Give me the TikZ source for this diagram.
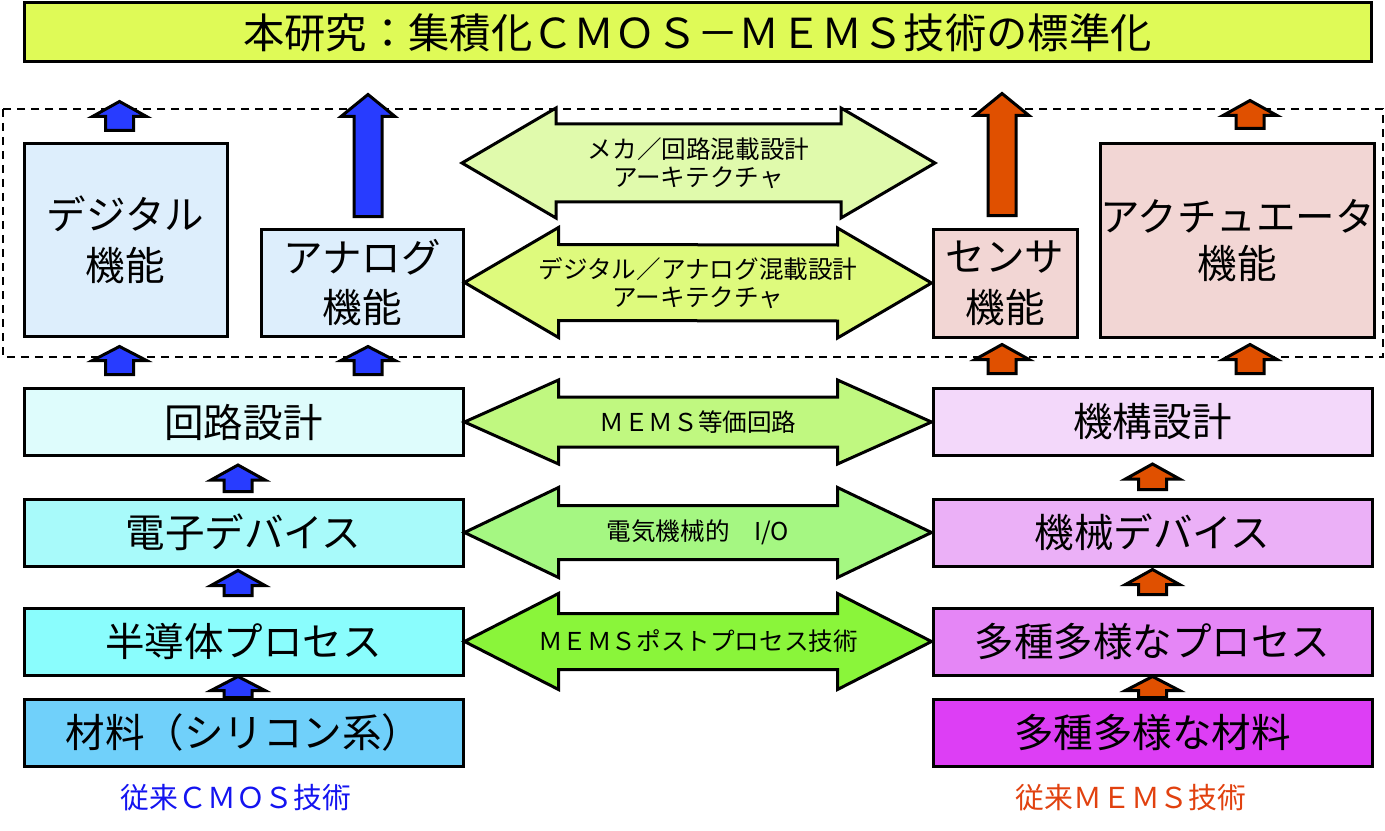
\documentclass[tikz,border=0pt]{standalone}
\usepackage{fontspec}
\setmainfont{Noto Sans CJK JP}
\usetikzlibrary{calc}

\newlength{\du}
\setlength{\du}{0.02cm}

\definecolor{titlecol}{RGB}{223,250,87}
\definecolor{funcblue}{RGB}{221,238,252}
\definecolor{funcpink}{RGB}{242,214,212}
\definecolor{circcol}{RGB}{222,252,252}
\definecolor{devcol}{RGB}{168,250,250}
\definecolor{proccol}{RGB}{138,253,253}
\definecolor{matcol}{RGB}{112,208,250}
\definecolor{mechcol}{RGB}{243,216,250}
\definecolor{mdevcol}{RGB}{235,176,247}
\definecolor{mproccol}{RGB}{229,134,246}
\definecolor{mmatcol}{RGB}{221,62,245}
\definecolor{arrA}{RGB}{224,250,172}
\definecolor{arrB}{RGB}{222,250,125}
\definecolor{arrC}{RGB}{192,248,128}
\definecolor{arrD}{RGB}{165,247,130}
\definecolor{arrE}{RGB}{138,245,58}
\definecolor{cmosblue}{RGB}{40,60,255}
\definecolor{memsorange}{RGB}{224,80,0}
\definecolor{footblue}{RGB}{20,20,240}
\definecolor{footorange}{RGB}{225,65,15}

\newcommand{\titlefont}{\fontsize{23.5}{28}\selectfont}
\newcommand{\boxfont}{\fontsize{22.5}{27}\selectfont}
\newcommand{\midfont}{\fontsize{14}{16}\selectfont}
\newcommand{\footfont}{\fontsize{16.4}{20}\selectfont}

\tikzset{
  blkline/.style={draw=black,line width=3\du,line join=miter},
  techbox/.style={draw=black,line width=3\du,inner sep=0pt,align=center,font=\boxfont},
  midlbl/.style={align=center,font=\midfont},
  footlbl/.style={font=\footfont}
}

% block arrow pointing up: bottom, tip, head length, fill
\newcommand{\blkup}[4]{%
  \filldraw[blkline,fill=#4] ($#1+(-14,0)$) -- ($#2+(-14,#3)$) -- ($#2+(-27,#3)$) -- #2
    -- ($#2+(27,#3)$) -- ($#2+(14,#3)$) -- ($#1+(14,0)$) -- cycle;}
% double block arrow: left tip, right tip, head half, shaft half, fill
\newcommand{\blkdbl}[5]{%
  \filldraw[blkline,fill=#5] #1 -- ($#1+(94,-#3)$) -- ($#1+(94,-#4)$) -- ($#2+(-94,-#4)$)
    -- ($#2+(-94,-#3)$) -- #2 -- ($#2+(-94,#3)$) -- ($#2+(-94,#4)$) -- ($#1+(94,#4)$)
    -- ($#1+(94,#3)$) -- cycle;}

\begin{document}
\begin{tikzpicture}[x=1\du,y=-1\du]
\useasboundingbox (0,0) rectangle (1385,831);

\node[techbox,fill=titlecol,minimum width=1347\du,minimum height=59\du,font=\titlefont] (title) at (697.5,32.5) {本研究：集積化ＣＭＯＳ－ＭＥＭＳ技術の標準化};

% frame of the integrated part
\draw[line width=1.5\du,dash pattern=on 8\du off 6\du] (3,109) rectangle (1383,357);

% functions
\node[techbox,fill=funcblue,minimum width=203\du,minimum height=192\du] (dig) at (125.5,240) {デジタル\\[2pt]機能};
\node[techbox,fill=funcblue,minimum width=202\du,minimum height=107\du] (ana) at (362,282.5) {アナログ\\[2pt]機能};
\node[techbox,fill=funcpink,minimum width=144\du,minimum height=108\du] (sens) at (1005,283) {センサ\\[2pt]機能};
\node[techbox,fill=funcpink,minimum width=269\du,minimum height=193\du] (act) at (1237.5,240.5) {アクチュエータ\\[0pt]機能};

% CMOS side
\node[techbox,fill=circcol,minimum width=439\du,minimum height=67\du] (circ) at (243.5,422) {回路設計};
\node[techbox,fill=devcol,minimum width=439\du,minimum height=67\du] (dev) at (243.5,532.5) {電子デバイス};
\node[techbox,fill=proccol,minimum width=439\du,minimum height=67\du] (proc) at (243.5,641.5) {半導体プロセス};
\node[techbox,fill=matcol,minimum width=439\du,minimum height=67\du] (mat) at (243.5,732.5) {材料（シリコン系）};

% MEMS side
\node[techbox,fill=mechcol,minimum width=439\du,minimum height=67\du] (mech) at (1152.5,422) {機構設計};
\node[techbox,fill=mdevcol,minimum width=439\du,minimum height=67\du] (mdev) at (1152.5,532.5) {機械デバイス};
\node[techbox,fill=mproccol,minimum width=439\du,minimum height=67\du] (mproc) at (1152.5,641.5) {多種多様なプロセス};
\node[techbox,fill=mmatcol,minimum width=439\du,minimum height=67\du] (mmat) at (1152.5,732.5) {多種多様な材料};

% up arrows to the standard
\blkup{([xshift=-6\du,yshift=12\du]dig.north)}{([xshift=-6\du,yshift=41\du]dig.north)}{15}{cmosblue}
\blkup{([xshift=6\du,yshift=11\du]ana.north)}{([xshift=6\du,yshift=133\du]ana.north)}{22}{cmosblue}
\blkup{([xshift=-3\du,yshift=12\du]sens.north)}{([xshift=-3\du,yshift=134\du]sens.north)}{22}{memsorange}
\blkup{([xshift=12.5\du,yshift=14\du]act.north)}{([xshift=12.5\du,yshift=42\du]act.north)}{15}{memsorange}
% up arrows into the functions
\blkup{([xshift=-6\du,yshift=-37\du]dig.south)}{([xshift=-6\du,yshift=-9\du]dig.south)}{14}{cmosblue}
\blkup{([xshift=6\du,yshift=-37\du]ana.south)}{([xshift=6\du,yshift=-9\du]ana.south)}{14}{cmosblue}
\blkup{([xshift=-3\du,yshift=-35\du]sens.south)}{([xshift=-3\du,yshift=-6\du]sens.south)}{15}{memsorange}
\blkup{([xshift=12.5\du,yshift=-35\du]act.south)}{([xshift=12.5\du,yshift=-6\du]act.south)}{15}{memsorange}
% up arrows between the layers
\blkup{([xshift=-5.5\du,yshift=6\du]dev.north)}{([xshift=-5.5\du,yshift=-8\du]circ.south)}{15}{cmosblue}
\blkup{([xshift=-5.5\du,yshift=11\du]proc.north)}{([xshift=-5.5\du,yshift=-3\du]dev.south)}{15}{cmosblue}
\blkup{([xshift=-5.5\du]mat.north)}{([xshift=-5.5\du]proc.south)}{14}{cmosblue}
\blkup{([yshift=8\du]mdev.north)}{([yshift=-7\du]mech.south)}{15}{memsorange}
\blkup{([yshift=12\du]mproc.north)}{([yshift=-2\du]mdev.south)}{15}{memsorange}
\blkup{(mmat.north)}{(mproc.south)}{14}{memsorange}

% links between both sides
\coordinate (mixL) at (462,163);
\coordinate (mixR) at (935,163);
\blkdbl{(mixL)}{(mixR)}{55}{39}{arrA}
\blkdbl{(ana.east)}{(sens.west)}{55}{38}{arrB}
\blkdbl{(circ.east)}{(mech.west)}{42}{25}{arrC}
\blkdbl{(dev.east)}{(mdev.west)}{45}{27}{arrD}
\blkdbl{(proc.east)}{(mproc.west)}{48}{28}{arrE}

\node[midlbl] (lblA) at ($(mixL)!0.5!(mixR)$) {メカ／回路混載設計\\アーキテクチャ};
\node[midlbl] (lblB) at ($(ana.east)!0.5!(sens.west)$) {デジタル／アナログ混載設計\\アーキテクチャ};
\node[midlbl] (lblC) at ($(circ.east)!0.5!(mech.west)$) {ＭＥＭＳ等価回路};
\node[midlbl] (lblD) at ($(dev.east)!0.5!(mdev.west)$) {電気機械的　I/O};
\node[midlbl] (lblE) at ($(proc.east)!0.5!(mproc.west)$) {ＭＥＭＳポストプロセス技術};

% footers
\node[footlbl,text=footblue] (cmos) at (236,798) {従来ＣＭＯＳ技術};
\node[footlbl,text=footorange] (mems) at (1131,798) {従来ＭＥＭＳ技術};
\end{tikzpicture}
\end{document}
